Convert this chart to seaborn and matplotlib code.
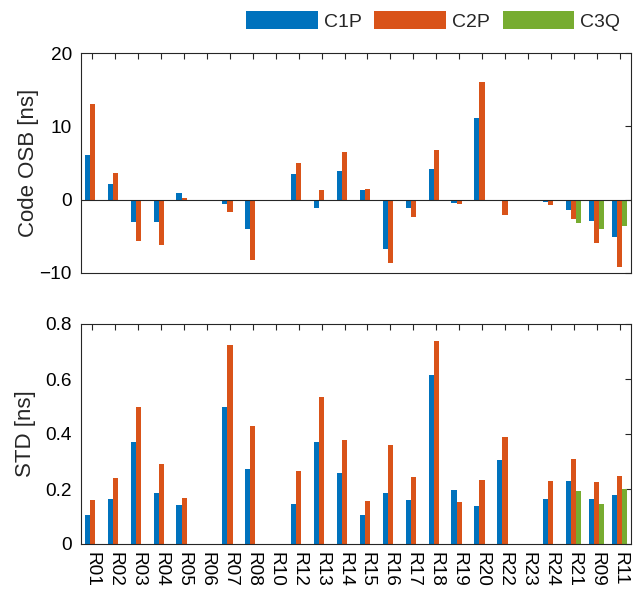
import numpy as np
import pandas as pd
import matplotlib
matplotlib.use("Agg")
import matplotlib.pyplot as plt
import seaborn as sns

stations = ["R01", "R02", "R03", "R04", "R05", "R06", "R07", "R08", "R10", "R12",
            "R13", "R14", "R15", "R16", "R17", "R18", "R19", "R20", "R22", "R23",
            "R24", "R21", "R09", "R11"]
series = ["C1P", "C2P", "C3Q"]

# Code OSB per station [ns]
osb_c1p = [6.1, 2.2, -3.0, -3.1, 0.85, 0.0, -0.55, -4.0, 0.0, 3.5,
           -1.2, 3.95, 1.3, -6.7, -1.2, 4.2, -0.5, 11.1, -0.25, 0.0,
           -0.3, -1.35, -2.85, -5.15]
osb_c2p = [13.0, 3.7, -5.6, -6.2, 0.25, 0.0, -1.7, -8.2, 0.0, 4.95,
           1.3, 6.5, 1.4, -8.6, -2.3, 6.75, -0.6, 16.0, -2.05, 0.0,
           -0.75, -2.6, -5.9, -9.2]
osb_c3q = [0.0] * 21 + [-3.15, -4.05, -3.65]

# Standard deviation per station [ns]
std_c1p = [0.107, 0.162, 0.372, 0.184, 0.142, 0.0, 0.498, 0.271, 0.0, 0.147,
           0.372, 0.260, 0.107, 0.187, 0.159, 0.613, 0.195, 0.140, 0.305, 0.0,
           0.163, 0.229, 0.164, 0.179]
std_c2p = [0.161, 0.241, 0.500, 0.290, 0.168, 0.0, 0.725, 0.429, 0.0, 0.265,
           0.535, 0.378, 0.157, 0.359, 0.242, 0.740, 0.154, 0.234, 0.389, 0.0,
           0.229, 0.310, 0.227, 0.246]
std_c3q = [0.0] * 21 + [0.193, 0.147, 0.200]

colors = ["#0072BD", "#D95319", "#77AC30"]


def long_frame(values):
    rows = []
    for name, vals in zip(series, values):
        for st, v in zip(stations, vals):
            rows.append({"station": st, "signal": name, "value": v})
    return pd.DataFrame(rows)


osb_df = long_frame([osb_c1p, osb_c2p, osb_c3q])
std_df = long_frame([std_c1p, std_c2p, std_c3q])

sns.set_style("white")
plt.rcParams["font.family"] = ["Liberation Sans", "DejaVu Sans"]
axis_color = "#262626"
tick_size = 13.7

fig = plt.figure(figsize=(6.37, 5.90), dpi=100)
ax_top = fig.add_axes([81 / 637, 1 - 273 / 590, 550 / 637, 220 / 590])
ax_bot = fig.add_axes([81 / 637, 1 - 544 / 590, 550 / 637, 220 / 590])

for ax, df in ((ax_top, osb_df), (ax_bot, std_df)):
    sns.barplot(data=df, x="station", y="value", hue="signal",
                order=stations, hue_order=series, palette=colors,
                width=0.667, dodge=True, errorbar=None, linewidth=0,
                saturation=1, ax=ax, legend=(ax is ax_top))
    ax.set_xlim(-0.5, len(stations) - 0.5)
    ax.set_xlabel("")
    for side in ("left", "right", "top", "bottom"):
        ax.spines[side].set_visible(True)
        ax.spines[side].set_color(axis_color)
        ax.spines[side].set_linewidth(0.8)
    ax.tick_params(direction="in", length=4.3, width=0.8, color=axis_color,
                   top=True, right=True, labelsize=tick_size, labelcolor="black")
    ax.tick_params(axis="y", pad=6.5)
    ax.tick_params(axis="x", pad=5.5)

ax_top.set_ylim(-10, 20)
ax_top.set_yticks([-10, 0, 10, 20])
ax_top.set_xticks(range(len(stations)))
ax_top.set_xticklabels([])
ax_top.axhline(0, color=axis_color, linewidth=0.8)
ax_top.set_ylabel("Code OSB [ns]", fontsize=16, labelpad=0.5)

ax_bot.set_ylim(0, 0.8)
ax_bot.set_yticks([0, 0.2, 0.4, 0.6, 0.8])
ax_bot.set_yticklabels(["0", "0.2", "0.4", "0.6", "0.8"])
ax_bot.set_xticks(range(len(stations)))
ax_bot.set_xticklabels(stations, rotation=-90, fontsize=tick_size)
ax_bot.set_ylabel("STD [ns]", fontsize=16, labelpad=6.5)

handles, labels = ax_top.get_legend_handles_labels()
ax_top.get_legend().remove()
fig.legend(handles, labels, loc="center right",
           bbox_to_anchor=(630 / 637, 1 - 21 / 590), ncol=3, frameon=False,
           fontsize=14, handlelength=3.7, handleheight=1.0,
           handletextpad=0.3, columnspacing=0.65, borderpad=0)

fig.savefig("out.png", dpi=100)
